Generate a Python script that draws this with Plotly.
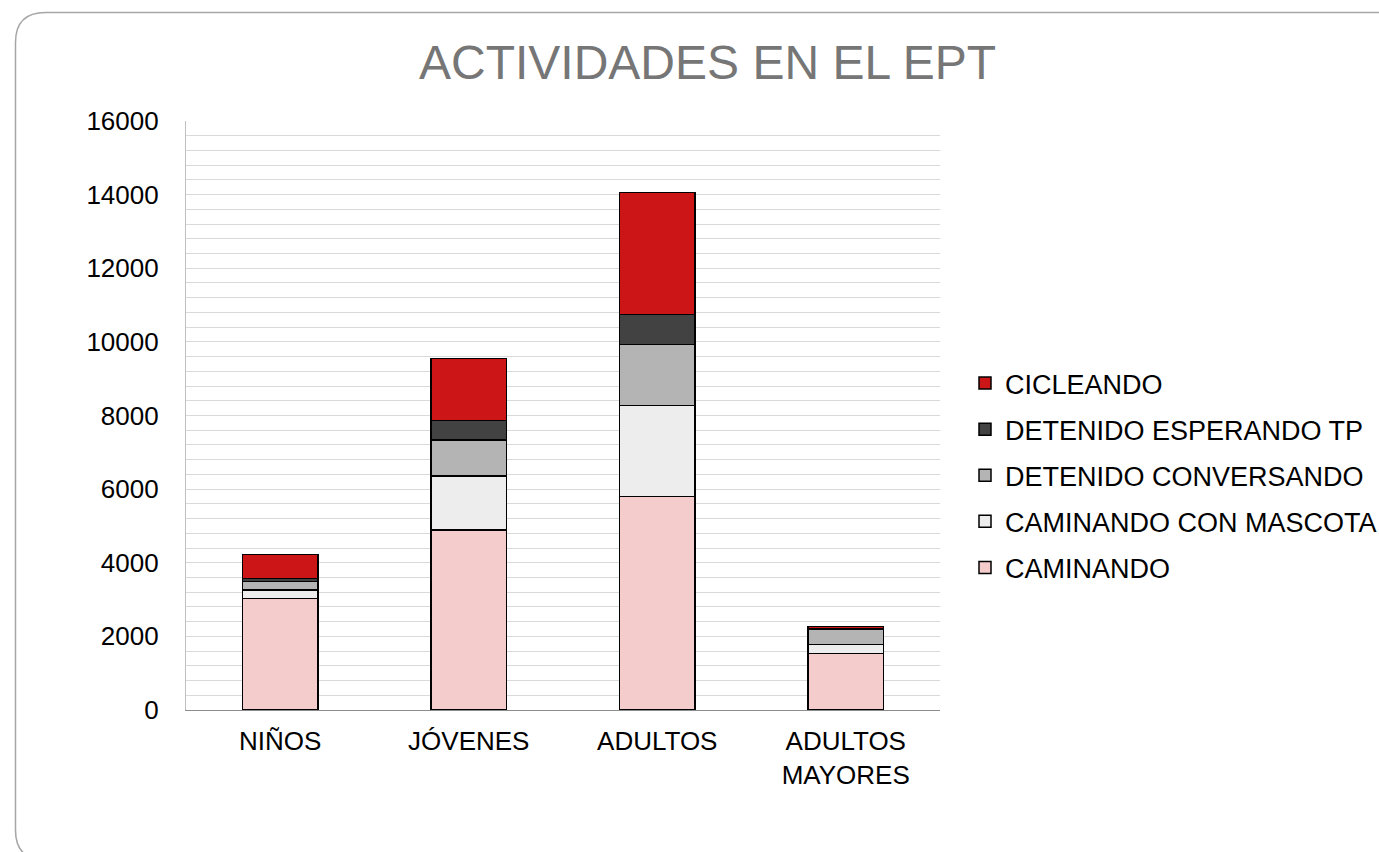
import plotly.graph_objects as go

# Age groups and activity counts (stacked bottom to top)
categories = ["NIÑOS", "JÓVENES", "ADULTOS", "ADULTOS<br>MAYORES"]
caminando = [3030, 4890, 5795, 1530]
caminando_mascota = [230, 1467, 2472, 245]
detenido_conversando = [230, 978, 1658, 425]
detenido_esperando_tp = [80, 525, 825, 10]
cicleando = [660, 1695, 3314, 55]

series_names = [
    "CAMINANDO",
    "CAMINANDO CON MASCOTA",
    "DETENIDO CONVERSANDO",
    "DETENIDO ESPERANDO TP",
    "CICLEANDO",
]
series_values = [caminando, caminando_mascota, detenido_conversando,
                 detenido_esperando_tp, cicleando]
series_colors = ["#f4cccc", "#ededed", "#b4b4b4", "#424242", "#cc1517"]

W, H = 1379, 852
L, R, T, B = 186, 439, 121, 142
FONT = "Liberation Sans, Arial, sans-serif"

fig = go.Figure()
n = len(series_names)
for i, (name, vals, col) in enumerate(zip(series_names, series_values, series_colors)):
    fig.add_trace(go.Bar(
        x=categories, y=vals, name=name,
        legendgroup=f"g{i}", legendrank=n - i,
        marker=dict(color=col, line=dict(color="#000000", width=1.5)),
    ))

# Rounded frame around the chart, defined in pixels then mapped to paper units
pw, ph = W - L - R, H - T - B


def px(x):
    return (x - L) / pw


def py(y):
    return (H - B - y) / ph


x0, y0, rad = 15.5, 12.5, 30
x1, y1 = 1420, 860
frame = (
    f"M {px(x0)},{py(y1 - rad)} "
    f"L {px(x0)},{py(y0 + rad)} "
    f"Q {px(x0)},{py(y0)} {px(x0 + rad)},{py(y0)} "
    f"L {px(x1)},{py(y0)} "
    f"M {px(x0)},{py(y1 - rad)} "
    f"Q {px(x0)},{py(y1)} {px(x0 + rad)},{py(y1)}"
)

fig.update_layout(
    width=W, height=H,
    margin=dict(l=L, r=R, t=T, b=B, autoexpand=False),
    barmode="stack",
    bargap=0.6,
    plot_bgcolor="white",
    paper_bgcolor="white",
    font=dict(family=FONT, size=26, color="#000000"),
    title=dict(text="ACTIVIDADES EN EL EPT", xref="container", yref="container",
               x=707.5 / W, xanchor="center",
               y=1 - 62 / H, yanchor="middle",
               font=dict(family=FONT, size=48, color="#767676")),
    showlegend=True,
    legend=dict(
        x=px(965), y=py(359), xanchor="left", yanchor="top",
        traceorder="grouped", tracegroupgap=8,
        font=dict(family=FONT, size=27, color="#000000"),
        itemwidth=30,
    ),
    xaxis=dict(
        showgrid=False, showline=True, linecolor="#8c8c8c", linewidth=1.2,
        ticks="", ticklabelstandoff=8, tickfont=dict(family=FONT, size=26),
    ),
    yaxis=dict(
        range=[0, 16000], dtick=2000, tickformat="d",
        showgrid=True, gridcolor="#d9d9d9", gridwidth=1.2,
        minor=dict(dtick=400, showgrid=True, gridcolor="#d9d9d9", gridwidth=1.2),
        showline=True, linecolor="#bfbfbf", linewidth=1.2,
        ticks="", ticklabelstandoff=21, zeroline=False,
        tickfont=dict(family=FONT, size=26),
    ),
    shapes=[dict(type="path", xref="paper", yref="paper", path=frame,
                 line=dict(color="#a6a6a6", width=1.5))],
)

fig.write_html("out.html")
